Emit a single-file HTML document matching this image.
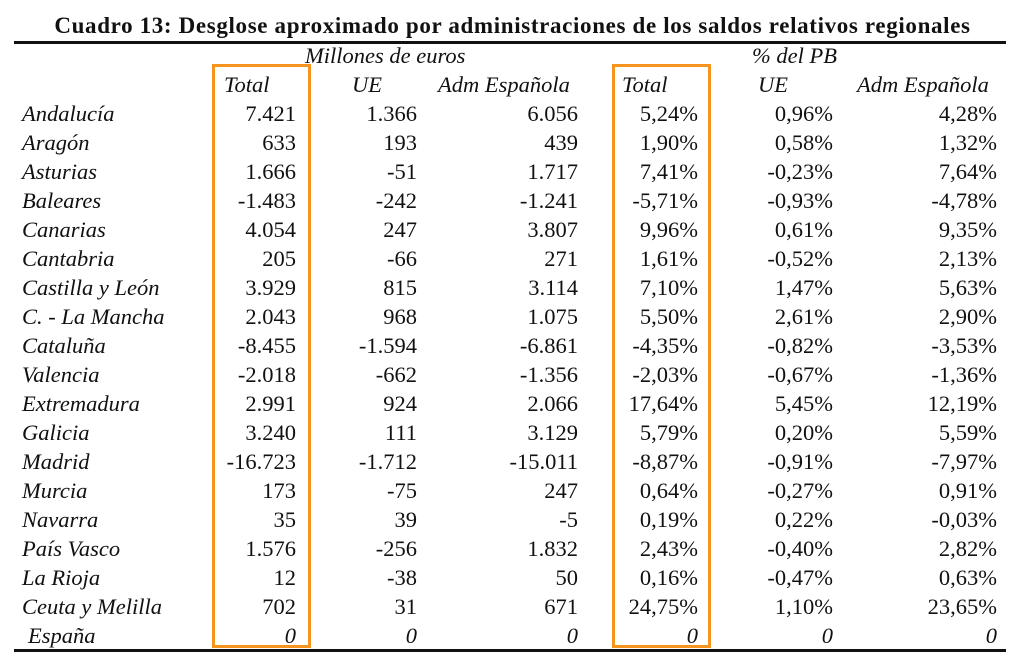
<!DOCTYPE html>
<html><head><meta charset="utf-8">
<style>
body{margin:0;width:1025px;height:665px;background:#fff;position:relative;overflow:hidden;font-family:"Liberation Serif",serif;color:#111}
.t{position:absolute;font-size:22.5px;line-height:29px;white-space:nowrap}
.i{font-style:italic}
.r{text-align:right}
#title{position:absolute;left:0;width:1025px;top:13px;text-align:center;font-weight:bold;font-size:23px;letter-spacing:0.65px}
.line{position:absolute;background:#111;height:3px}
.box{position:absolute;border:3px solid #f7941d;box-sizing:border-box}
</style></head><body>
<div id="title">Cuadro 13: Desglose aproximado por administraciones de los saldos relativos regionales</div>
<div class="line" style="left:14px;width:992px;top:41px"></div>
<div class="line" style="left:14px;width:992px;top:649px"></div>
<div class="box" style="left:212px;top:64px;width:99px;height:584px"></div>
<div class="box" style="left:612px;top:64px;width:99px;height:584px"></div>
<div class="t i" style="left:305px;top:41px">Millones de euros</div>
<div class="t i" style="left:752px;top:41px">% del PB</div>
<div id="tbl"></div>
<script>
const regions=["Andalucía","Aragón","Asturias","Baleares","Canarias","Cantabria","Castilla y León","C. - La Mancha","Cataluña","Valencia","Extremadura","Galicia","Madrid","Murcia","Navarra","País Vasco","La Rioja","Ceuta y Melilla","España"];
const totalEur=["7.421","633","1.666","-1.483","4.054","205","3.929","2.043","-8.455","-2.018","2.991","3.240","-16.723","173","35","1.576","12","702","0"];
const ueEur=["1.366","193","-51","-242","247","-66","815","968","-1.594","-662","924","111","-1.712","-75","39","-256","-38","31","0"];
const admEur=["6.056","439","1.717","-1.241","3.807","271","3.114","1.075","-6.861","-1.356","2.066","3.129","-15.011","247","-5","1.832","50","671","0"];
const totalPib=["5,24%","1,90%","7,41%","-5,71%","9,96%","1,61%","7,10%","5,50%","-4,35%","-2,03%","17,64%","5,79%","-8,87%","0,64%","0,19%","2,43%","0,16%","24,75%","0"];
const uePib=["0,96%","0,58%","-0,23%","-0,93%","0,61%","-0,52%","1,47%","2,61%","-0,82%","-0,67%","5,45%","0,20%","-0,91%","-0,27%","0,22%","-0,40%","-0,47%","1,10%","0"];
const admPib=["4,28%","1,32%","7,64%","-4,78%","9,35%","2,13%","5,63%","2,90%","-3,53%","-1,36%","12,19%","5,59%","-7,97%","0,91%","-0,03%","2,82%","0,63%","23,65%","0"];
const headers=["Total","UE","Adm Española","Total","UE","Adm Española"];
const cols=[totalEur,ueEur,admEur,totalPib,uePib,admPib];
const rights=[296,417,578,698,833,997];
const hdrLeft=[224,352,438,622,758,857];
const tbl=document.getElementById('tbl');
function mk(txt,cls,style){const d=document.createElement('div');d.className='t '+cls;d.style.cssText=style;d.textContent=txt;tbl.appendChild(d);return d;}
headers.forEach((h,j)=>{
  const d=mk(h,'i','left:'+hdrLeft[j]+'px;top:70px');
  
  
});
regions.forEach((r,i)=>{
  const top=99+i*29;
  const last=i===regions.length-1;
  const d=mk(r,'i','left:'+(last?28:22)+'px;top:'+top+'px');
  
  
  cols.forEach((c,j)=>{
    const e=mk(c[i],'r'+(last?' i':''),'right:'+(1025-rights[j])+'px;top:'+top+'px');
    
    
  });
});
</script>
</body></html>
